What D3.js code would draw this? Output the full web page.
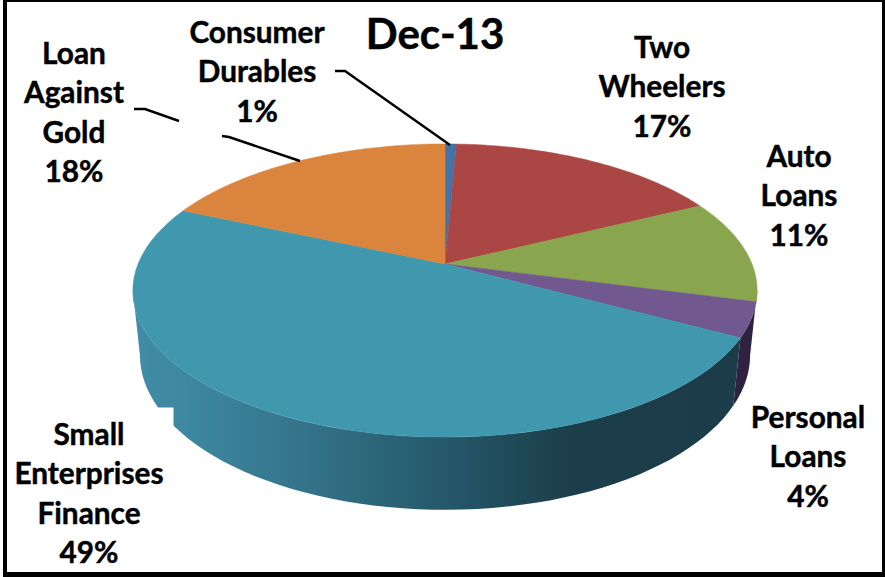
<!DOCTYPE html>
<html>
<head>
<meta charset="utf-8">
<script src="https://cdn.jsdelivr.net/npm/d3@7"></script>
<style>
html,body{margin:0;padding:0;background:#fff;overflow:hidden}
text{font-family:Lato,"Open Sans",sans-serif;font-weight:700;fill:#000;stroke:#000;stroke-width:0.45;text-anchor:middle}
</style>
</head>
<body>
<svg id="c" width="885" height="577"></svg>
<script>
const title = "Dec-13";
const categories = ["Consumer Durables","Two Wheelers","Auto Loans","Personal Loans","Small Enterprises Finance","Loan Against Gold"];
const values = [0.7,17.0,11.4,3.8,48.7,18.4];
const labelLines = [["Consumer","Durables"],["Two","Wheelers"],["Auto","Loans"],["Personal","Loans"],["Small","Enterprises","Finance"],["Loan","Against","Gold"]];
const topColours = ["#4572a7","#aa4643","#89a54e","#71588f","#4098af","#db843d"];
const wallColours = ["#2f4a6d","#6f2e2c","#5a6c33","#2f2140","url(#wallGrad)","#8f5628"];
// layout
const W = 885, H = 577;
const labelAnchors = [[257,43],[662,58],[799,167],[808,428],[89,445],[74,64]];
const lineStep = 39.3;
const leaders = [[[335,71],[345,71],[450,145]],[[134,109],[145,109],[179,121]],[[222,136],[229,137],[300,161]]];
const cam = {cx:445, b:264, a:94, c:-0.181, A:307, d:0.0225, e:71};
const silhouetteRight = 100.4*Math.PI/180, silhouetteLeft = 259.6*Math.PI/180;

function project(theta, low){
  const u = Math.sin(theta), v = -Math.cos(theta);
  const w = 1 + cam.c*v + (low?cam.d:0);
  return [cam.cx + cam.A*u/w, (cam.a*v + cam.b + (low?cam.e:0))/w];
}
const svg = d3.select("#c");
const defs = svg.append("defs");
const grad = defs.append("linearGradient").attr("id","wallGrad").attr("gradientUnits","userSpaceOnUse")
  .attr("x1",133).attr("x2",757).attr("y1",0).attr("y2",0);
[[0,"#418ca6"],[0.1,"#3d869f"],[0.27,"#34748a"],[0.5,"#25586a"],[0.7,"#1c3e4a"],[1,"#1b3c48"]]
  .forEach(s=>grad.append("stop").attr("offset",s[0]).attr("stop-color",s[1]));

const pie = d3.pie().sort(null).value(d=>d).startAngle(0).endAngle(2*Math.PI);
const arcs = pie(values);
const line = d3.line();
const sweep = (a0,a1,low)=>d3.range(0,61).map(i=>project(a0+(a1-a0)*i/60,low));

// side wall (only the part facing the viewer)
const wallG = svg.append("g");
arcs.forEach((d,i)=>{
  let a0 = Math.max(d.startAngle, silhouetteRight), a1 = Math.min(d.endAngle, silhouetteLeft);
  if (a1 <= a0) return;
  if (i===3) a0 = silhouetteRight;
  if (i===2) return;
  wallG.append("path")
    .attr("d", line(sweep(a0,a1,false).concat(sweep(a1,a0,true)))+"Z")
    .attr("fill", wallColours[i]);
});
// white label box cutting the wall
svg.append("rect").attr("x",145).attr("y",407.5).attr("width",28.5).attr("height",30).attr("fill","#fff");

// top face
const apex = [cam.cx, cam.b];
svg.append("g").selectAll("path").data(arcs).join("path")
  .attr("d", d=>line([apex].concat(sweep(d.startAngle,d.endAngle,false)))+"Z")
  .attr("fill",(d,i)=>topColours[i])
  .attr("stroke",(d,i)=>topColours[i]).attr("stroke-width",0.5);

// leader lines
svg.append("g").selectAll("path").data(leaders).join("path")
  .attr("d", d=>line(d)).attr("fill","none").attr("stroke","#000").attr("stroke-width",2.4);

// labels
const lab = svg.append("g").attr("font-size",29.8);
categories.forEach((c,i)=>{
  const t = lab.append("text").attr("x",labelAnchors[i][0]).attr("y",labelAnchors[i][1]);
  labelLines[i].concat(Math.round(values[i])+"%").forEach((s,j)=>
    t.append("tspan").attr("x",labelAnchors[i][0]).attr("dy",j?lineStep:0).text(s));
});
svg.append("text").attr("x",435).attr("y",49).attr("font-size",42).text(title);

// frame
const frame = svg.append("g").attr("fill","#000");
[[3,0,4,577],[882,0,3,577],[3,0,882,2],[3,572,882,5]].forEach(r=>
  frame.append("rect").attr("x",r[0]).attr("y",r[1]).attr("width",r[2]).attr("height",r[3]));
</script>
</body>
</html>
